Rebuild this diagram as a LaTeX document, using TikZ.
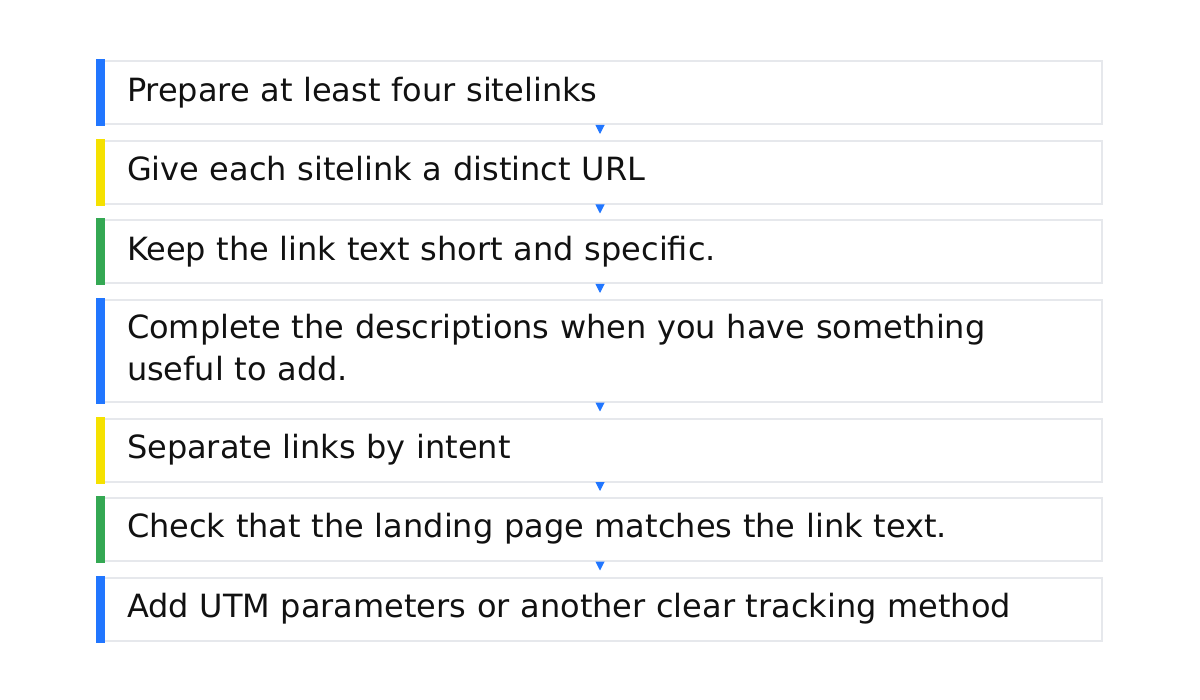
\documentclass[tikz,border=0pt]{standalone}
\usepackage{fontspec}
\setmainfont{DejaVu Sans}
\usepackage{tikz}
\usetikzlibrary{arrows.meta,positioning}
\definecolor{barblue}{HTML}{2176FF}
\definecolor{baryellow}{HTML}{F5E100}
\definecolor{bargreen}{HTML}{34A853}
\definecolor{boxgray}{HTML}{E6E8EC}
\definecolor{inkblack}{HTML}{111111}

\begin{document}
\begin{tikzpicture}[x=0.5pt,y=-0.5pt,
			stepbox/.style={draw=boxgray, line width=1pt, anchor=north west, minimum width=502pt, minimum height=31.5pt,
				inner xsep=14.5pt, inner ysep=4pt, text width=473pt, align=left, text=inkblack,
				font=\fontsize{16}{21}\selectfont, execute at begin node=\strut, execute at end node=\strut},
			link/.style={barblue, line width=0.5pt, -{Triangle[width=4.5pt,length=4.5pt]}, shorten >=3pt}]
		\useasboundingbox (0,0) rectangle (1200,700);
		\path 	(97,60.5) 	node 	(s1) [stepbox] {Prepare at least four sitelinks}
		        (97,140) 	node 	(s2) [stepbox] {Give each sitelink a distinct URL}
		        (97,219.5) 	node 	(s3) [stepbox] {Keep the link text short and specific.}
		        (97,299) 	node 	(s4) [stepbox, minimum height=51pt] {Complete the descriptions when you have something\\useful to add.}
		        (97,417.5) 	node 	(s5) [stepbox] {Separate links by intent}
		        (97,497) 	node 	(s6) [stepbox] {Check that the landing page matches the link text.}
		        (97,576.5) 	node 	(s7) [stepbox] {Add UTM parameters or another clear tracking method};
		% colour bars on the left edge
		\foreach \s/\c in {s1/barblue, s2/baryellow, s3/bargreen, s4/barblue, s5/baryellow, s6/bargreen, s7/barblue}
			\fill [\c] ([shift={(-0.5pt,0.5pt)}]\s.north west) rectangle ([shift={(4pt,-0.5pt)}]\s.south west);
		\foreach \a/\b in {s1/s2, s2/s3, s3/s4, s4/s5, s5/s6, s6/s7}
			\draw [link] (\a.south) -- (\b.north);
	\end{tikzpicture}
\end{document}
